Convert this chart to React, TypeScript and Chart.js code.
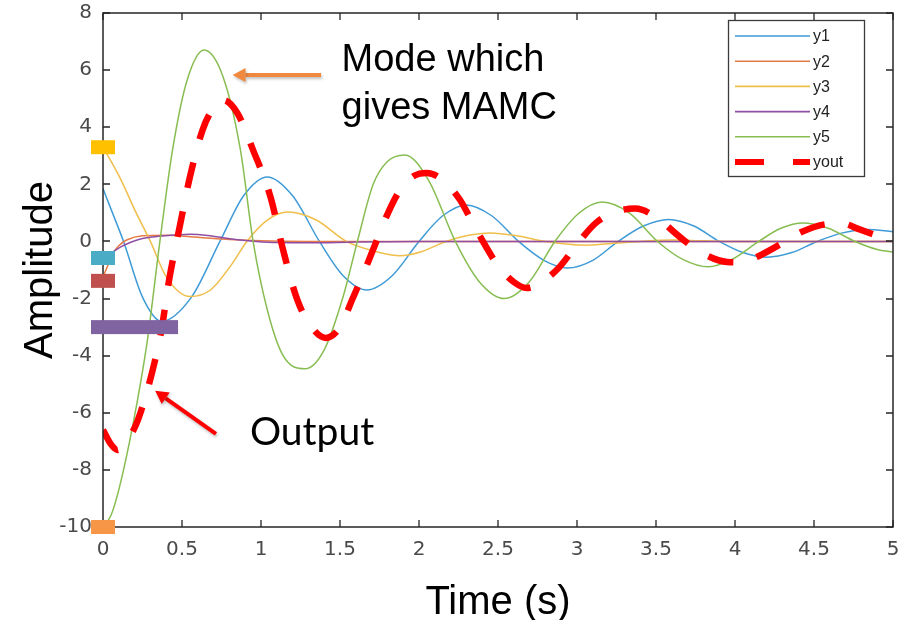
import React, { useEffect, useRef } from "react";
import { Chart, registerables } from "chart.js";

Chart.register(...registerables);

// ---- axis ticks ----
const xTickStep = 0.5;
const xMin = 0;
const xMax = 5;
const yTickStep = 2;
const yMin = -10;
const yMax = 8;

// ---- series (time in s, amplitude) ----
const tY1 = [0, 0.06, 0.13, 0.25, 0.37, 0.56, 0.74, 0.89, 1.04, 1.2, 1.37, 1.52, 1.67, 1.83, 2.0, 2.15, 2.3, 2.46, 2.63, 2.79, 2.94, 3.1, 3.26, 3.42, 3.58, 3.74, 3.9, 4.05, 4.2, 4.36, 4.52, 4.68, 4.84, 5.0];
const y1 = [1.85, 1.0, 0, -1.95, -2.8, -1.95, 0, 1.6, 2.26, 1.6, 0, -1.2, -1.7, -1.2, 0, 0.9, 1.28, 0.9, 0, -0.66, -0.93, -0.66, 0, 0.54, 0.77, 0.54, 0, -0.39, -0.55, -0.39, 0, 0.3, 0.42, 0.34];

const tY2 = [0, 0.03, 0.065, 0.1, 0.15, 0.25, 0.4, 0.6, 0.8, 1.0, 1.3, 2, 3, 4, 5];
const y2 = [-1.25, -0.85, -0.4, -0.15, 0.05, 0.2, 0.22, 0.15, 0.07, 0.02, 0, 0, 0, 0, 0];

const tY3 = [0, 0.11, 0.21, 0.3, 0.4, 0.55, 0.68, 0.82, 0.91, 1.04, 1.17, 1.35, 1.54, 1.73, 1.88, 2.02, 2.17, 2.3, 2.45, 2.62, 2.8, 2.95, 3.05, 3.2, 3.4, 3.6, 3.8, 4.0, 4.5, 5.0];
const y3 = [3.3, 2.2, 1.0, 0, -1.23, -1.93, -1.7, -0.76, 0, 0.75, 1.03, 0.75, 0, -0.36, -0.5, -0.35, 0, 0.2, 0.3, 0.2, 0, -0.1, -0.13, -0.08, 0, 0.05, 0.02, 0, 0, 0];

const tY4 = [0, 0.05, 0.11, 0.18, 0.25, 0.35, 0.47, 0.55, 0.65, 0.76, 0.87, 0.97, 1.1, 1.3, 1.6, 2.0, 3, 4, 5];
const y4 = [-0.53, -0.4, -0.2, -0.02, 0.1, 0.18, 0.23, 0.25, 0.22, 0.13, 0.05, 0, -0.04, -0.05, -0.02, 0, 0, 0, 0];

const tY5 = [0, 0.05, 0.1, 0.19, 0.28, 0.36, 0.44, 0.53, 0.64, 0.76, 0.87, 0.95, 1.04, 1.14, 1.28, 1.4, 1.52, 1.61, 1.71, 1.8, 1.91, 2.06, 2.23, 2.38, 2.54, 2.7, 2.86, 3.01, 3.16, 3.33, 3.51, 3.67, 3.83, 3.98, 4.15, 4.29, 4.43, 4.59, 4.76, 4.9, 5.0];
const y5 = [-10, -9.6, -8.7, -6.4, -3.5, 0, 3.2, 5.6, 6.7, 5.76, 3.2, 0, -2.4, -4.0, -4.46, -3.8, -1.93, 0, 2.0, 2.8, 3.03, 2.15, 0, -1.4, -2.0, -1.4, 0, 0.98, 1.38, 1.0, 0, -0.63, -0.89, -0.63, 0, 0.46, 0.65, 0.46, 0, -0.28, -0.37];

const tOut = [0, 0.05, 0.09, 0.15, 0.21, 0.26, 0.31, 0.37, 0.42, 0.49, 0.55, 0.63, 0.69, 0.76, 0.85, 0.95, 1.06, 1.14, 1.23, 1.32, 1.41, 1.5, 1.58, 1.65, 1.73, 1.8, 1.88, 1.97, 2.05, 2.15, 2.26, 2.33, 2.41, 2.5, 2.6, 2.68, 2.77, 2.89, 3.0, 3.12, 3.25, 3.37, 3.5, 3.65, 3.78, 3.95, 4.03, 4.11, 4.28, 4.42, 4.6, 4.68, 4.78, 4.9, 5.0];
const yOut = [-6.6, -7.1, -7.3, -7.0, -6.4, -5.6, -4.6, -3.1, -1.3, 0.64, 2.26, 3.9, 4.6, 4.95, 4.5, 3.2, 1.56, -0.3, -2.05, -3.0, -3.38, -3.0, -2.0, -1.1, 0, 0.95, 1.8, 2.3, 2.4, 2.15, 1.45, 0.75, -0.05, -0.85, -1.42, -1.63, -1.45, -0.89, -0.1, 0.65, 1.05, 1.15, 0.85, 0.16, -0.37, -0.72, -0.73, -0.61, -0.12, 0.33, 0.62, 0.63, 0.44, 0.2, 0.0];

const seriesLabels = ["y1", "y2", "y3", "y4", "y5", "yout"];
const seriesColors = ["#3f9bd7", "#e57a45", "#f0be4a", "#8f4fa5", "#88bd52", "#ff0000"];

// ---- annotation markers on the y axis (value, end time) ----
const markerValues = [3.3, -0.58, -1.38, -3.0, -10];
const markerStart = -0.076;
const markerEnds = [0.076, 0.076, 0.076, 0.475, 0.076];
const markerColors = ["#ffc000", "#4bacc6", "#c0504d", "#8064a2", "#f79646"];

// ---- callouts (data coordinates) ----
const modeText = ["Mode which", "gives MAMC"];
const modeTextPos = { t: 1.51, v: [5.98, 4.3] };
const modeArrow = { fromT: 1.38, fromV: 5.83, toT: 0.82, toV: 5.83 };
const outText = "Output";
const outTextPos = { t: 0.93, v: -7.12 };
const outArrow = { fromT: 0.715, fromV: -6.74, toT: 0.33, toV: -5.23 };

function pts(ts: number[], vs: number[]) {
  return ts.map((t, i) => ({ x: t, y: vs[i] }));
}

function arrow(ctx: CanvasRenderingContext2D, x1: number, y1: number, x2: number, y2: number, color: string, w: number) {
  const ang = Math.atan2(y2 - y1, x2 - x1);
  const headL = 13;
  const headW = 7;
  const bx = x2 - headL * Math.cos(ang);
  const by = y2 - headL * Math.sin(ang);
  ctx.save();
  ctx.shadowColor = "rgba(0,0,0,0.25)";
  ctx.shadowBlur = 3;
  ctx.shadowOffsetX = 1;
  ctx.shadowOffsetY = 2;
  ctx.strokeStyle = color;
  ctx.fillStyle = color;
  ctx.lineWidth = w;
  ctx.beginPath();
  ctx.moveTo(x1, y1);
  ctx.lineTo(bx, by);
  ctx.stroke();
  ctx.beginPath();
  ctx.moveTo(x2, y2);
  ctx.lineTo(bx + headW * Math.sin(ang), by - headW * Math.cos(ang));
  ctx.lineTo(bx - headW * Math.sin(ang), by + headW * Math.cos(ang));
  ctx.closePath();
  ctx.fill();
  ctx.restore();
}

const decorPlugin = {
  id: "decor",
  afterDraw(chart: any) {
    const ctx: CanvasRenderingContext2D = chart.ctx;
    const { left, right, top, bottom } = chart.chartArea;
    const xs = chart.scales.x;
    const ys = chart.scales.y;
    ctx.save();
    // frame
    ctx.strokeStyle = "#262626";
    ctx.lineWidth = 1.5;
    ctx.strokeRect(Math.round(left), Math.round(top), Math.round(right - left), Math.round(bottom - top));
    // inward ticks
    const tl = 7;
    ctx.lineWidth = 1.3;
    ctx.beginPath();
    xs.ticks.forEach((tk: any) => {
      const px = Math.round(xs.getPixelForValue(tk.value));
      ctx.moveTo(px, bottom);
      ctx.lineTo(px, bottom - tl);
      ctx.moveTo(px, top);
      ctx.lineTo(px, top + tl);
    });
    ys.ticks.forEach((tk: any) => {
      const py = Math.round(ys.getPixelForValue(tk.value));
      ctx.moveTo(left, py);
      ctx.lineTo(left + tl, py);
      ctx.moveTo(right, py);
      ctx.lineTo(right - tl, py);
    });
    ctx.stroke();

    // markers
    markerValues.forEach((v, i) => {
      const x0 = xs.getPixelForValue(markerStart);
      const x1 = xs.getPixelForValue(markerEnds[i]);
      const yc = ys.getPixelForValue(v);
      ctx.fillStyle = markerColors[i];
      ctx.fillRect(x0, yc - 7, x1 - x0, 14);
    });

    // legend
    const bw = 136;
    const bh = 156;
    const bx = right - 29 - bw;
    const by = top + 7;
    ctx.fillStyle = "#ffffff";
    ctx.fillRect(bx, by, bw, bh);
    ctx.strokeStyle = "#3a3a3a";
    ctx.lineWidth = 1.3;
    ctx.strokeRect(bx + 0.5, by + 0.5, bw, bh);
    ctx.font = "16px 'Liberation Sans', Arial, sans-serif";
    ctx.textBaseline = "middle";
    ctx.textAlign = "left";
    seriesLabels.forEach((lab, i) => {
      const yy = by + 16 + i * 25.2;
      ctx.strokeStyle = seriesColors[i];
      if (lab === "yout") {
        ctx.lineWidth = 6;
        ctx.setLineDash([29, 29]);
      } else {
        ctx.lineWidth = 1.6;
        ctx.setLineDash([]);
      }
      ctx.beginPath();
      ctx.moveTo(bx + 7, yy);
      ctx.lineTo(bx + 82, yy);
      ctx.stroke();
      ctx.setLineDash([]);
      ctx.fillStyle = "#222222";
      ctx.fillText(lab, bx + 85, yy + 1);
    });

    // callouts
    ctx.fillStyle = "#000000";
    ctx.textBaseline = "alphabetic";
    ctx.font = "38px 'Liberation Sans', Arial, sans-serif";
    modeText.forEach((s, i) => {
      ctx.fillText(s, xs.getPixelForValue(modeTextPos.t), ys.getPixelForValue(modeTextPos.v[i]));
    });
    arrow(ctx, xs.getPixelForValue(modeArrow.fromT), ys.getPixelForValue(modeArrow.fromV), xs.getPixelForValue(modeArrow.toT), ys.getPixelForValue(modeArrow.toV), "#f0883e", 4);
    ctx.fillStyle = "#000000";
    ctx.font = "39px Lato, 'Open Sans', sans-serif";
    ctx.fillText(outText, xs.getPixelForValue(outTextPos.t), ys.getPixelForValue(outTextPos.v));
    arrow(ctx, xs.getPixelForValue(outArrow.fromT), ys.getPixelForValue(outArrow.fromV), xs.getPixelForValue(outArrow.toT), ys.getPixelForValue(outArrow.toV), "#ff0000", 4);
    ctx.restore();
  },
};

const fmtTick = (v: any) => String(Math.round(Number(v) * 10) / 10);

export default function App() {
  const ref = useRef<HTMLCanvasElement | null>(null);
  useEffect(() => {
    document.body.style.margin = "0";
    const canvas = ref.current;
    if (!canvas) return;
    const tickFont = { family: "'DejaVu Sans', sans-serif", size: 20 };
    const titleFont = { family: "'Liberation Sans', Arial, sans-serif", size: 40, lineHeight: 0.85 };
    const series = [
      { ts: tY1, vs: y1, order: 5 },
      { ts: tY2, vs: y2, order: 4 },
      { ts: tY3, vs: y3, order: 3 },
      { ts: tY4, vs: y4, order: 2 },
      { ts: tY5, vs: y5, order: 1 },
      { ts: tOut, vs: yOut, order: 0 },
    ];
    const chart = new Chart(canvas, {
      type: "line",
      data: {
        datasets: series.map((s, i) => ({
          label: seriesLabels[i],
          data: pts(s.ts, s.vs),
          borderColor: seriesColors[i],
          backgroundColor: seriesColors[i],
          borderWidth: i === 5 ? 6.5 : 1.5,
          borderDash: i === 5 ? [26, 24] : [],
          borderCapStyle: "butt",
          pointRadius: 0,
          fill: false,
          cubicInterpolationMode: "monotone",
          order: s.order,
        })),
      },
      options: {
        responsive: false,
        animation: false,
        events: [],
        layout: { padding: { top: 13, right: 17, left: 0, bottom: 0 } },
        plugins: { legend: { display: false }, tooltip: { enabled: false } },
        scales: {
          x: {
            type: "linear",
            min: xMin,
            max: xMax,
            ticks: { stepSize: xTickStep, color: "#4a4a4a", font: tickFont, padding: 11, maxRotation: 0, autoSkip: false, callback: fmtTick },
            grid: { display: false, drawTicks: false },
            border: { display: false },
            title: { display: true, text: "Time (s)", color: "#000", font: titleFont, padding: { top: 0, bottom: 0 } },
            afterFit: (s: any) => { s.height = 93; s.paddingLeft = 0; s.paddingRight = 0; },
          },
          y: {
            type: "linear",
            min: yMin,
            max: yMax,
            ticks: { stepSize: yTickStep, color: "#4a4a4a", font: tickFont, padding: 11, autoSkip: false, callback: fmtTick },
            grid: { display: false, drawTicks: false },
            border: { display: false },
            title: { display: true, text: "Amplitude", color: "#000", font: titleFont, padding: { top: 24, bottom: 0 } },
            afterFit: (s: any) => { s.width = 103; s.paddingTop = 0; s.paddingBottom = 0; },
          },
        },
      } as any,
      plugins: [decorPlugin],
    });
    return () => chart.destroy();
  }, []);
  return (
    <div style={{ width: 910, height: 620 }}>
      <canvas ref={ref} width={910} height={620} />
    </div>
  );
}
